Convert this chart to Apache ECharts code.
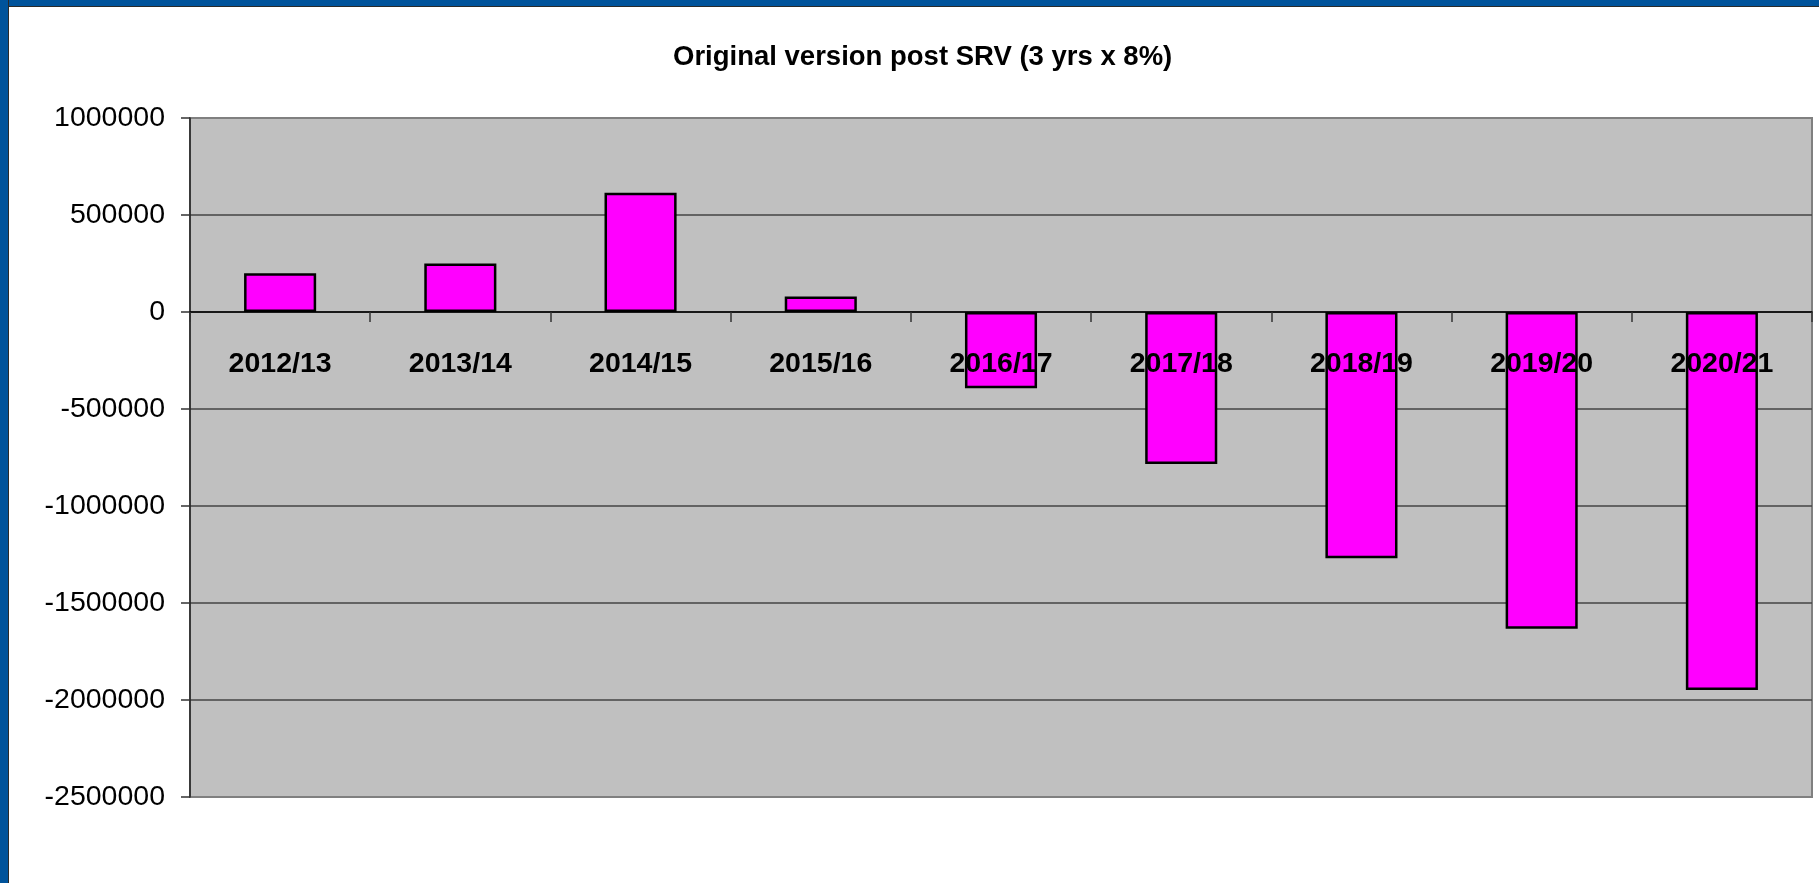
<!DOCTYPE html>
<html>
<head>
<meta charset="utf-8">
<script src="https://cdn.jsdelivr.net/npm/echarts@6/dist/echarts.min.js"></script>
<style>
  html, body { margin: 0; padding: 0; background: #ffffff; }
  #chart { position: absolute; left: 0; top: 0; width: 1819px; height: 883px; }
  .bl { position: absolute; left: 0; top: 0; width: 8px; height: 883px; background: #00539B; border-right: 1px solid #2a2a2a; }
  .bt { position: absolute; left: 0; top: 0; width: 1819px; height: 6px; background: #00539B; border-bottom: 1px solid #2a2a2a; }
</style>
</head>
<body>
<div id="chart"></div>
<div class="bt"></div>
<div class="bl"></div>
<script>
const titleText = 'Original version post SRV (3 yrs x 8%)';
const categories = ['2012/13', '2013/14', '2014/15', '2015/16', '2016/17', '2017/18', '2018/19', '2019/20', '2020/21'];
const values = [200000, 250000, 615000, 80000, -393000, -784000, -1269000, -1633000, -1949000];
const yMin = -2500000;
const yMax = 1000000;
const yStep = 500000;

const font = 'Liberation Sans, Arial, Helvetica, sans-serif';
const chart = echarts.init(document.getElementById('chart'), null, { renderer: 'canvas' });
chart.setOption({
  animation: false,
  backgroundColor: '#ffffff',
  title: {
    text: titleText,
    left: 673,
    top: 43,
    padding: 0,
    textStyle: { fontFamily: font, fontSize: 27.5, fontWeight: 'bold', color: '#000000' }
  },
  grid: {
    left: 190, right: 7, top: 118, bottom: 86,
    show: true,
    backgroundColor: '#C0C0C0',
    borderColor: '#808080',
    borderWidth: 2
  },
  xAxis: {
    type: 'category',
    data: categories,
    z: 10,
    axisLine: { show: true, onZero: true, lineStyle: { color: '#000000', width: 1.5 } },
    axisTick: { show: true, interval: 0, alignWithLabel: false, length: 10, lineStyle: { color: '#333333', width: 1.5 } },
    axisLabel: { interval: 0, margin: -447, fontFamily: font, fontSize: 28.5, fontWeight: 'bold', color: '#000000' },
    splitLine: { show: false }
  },
  yAxis: {
    type: 'value',
    min: yMin,
    max: yMax,
    interval: yStep,
    axisLine: { show: true, lineStyle: { color: '#222222', width: 1.5 } },
    axisTick: { show: true, length: 9, lineStyle: { color: '#333333', width: 1.5 } },
    axisLabel: { margin: 25, fontFamily: font, fontSize: 28.5, color: '#000000', formatter: function (v) { return String(v); } },
    splitLine: { show: true, showMinLine: false, showMaxLine: false, lineStyle: { color: '#444444', width: 1.5 } }
  },
  series: [{
    type: 'bar',
    data: values,
    barWidth: '40%',
    itemStyle: { color: '#FF00FF', borderColor: '#000000', borderWidth: 2.5 }
  }]
});
</script>
</body>
</html>
